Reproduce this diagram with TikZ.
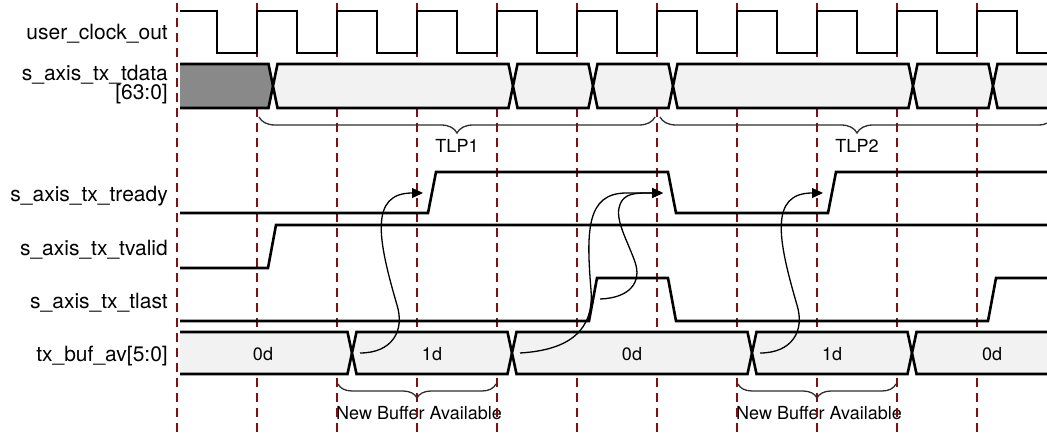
\documentclass[tikz,border=0pt]{standalone}
\usepackage{fontspec}
\setmainfont{TeX Gyre Heros}
\usetikzlibrary{arrows.meta,decorations.pathreplacing}
\definecolor{gridred}{RGB}{128,16,16}
\definecolor{boxfill}{RGB}{242,242,242}
\definecolor{darkfill}{RGB}{137,137,137}
\definecolor{bracecol}{RGB}{45,45,45}
\newcommand\busseg[5]{\filldraw[wave, fill=#5] (#1+4.5,#3) -- (#2-4.5,#3) -- (#2,{(#3+#4)/2}) -- (#2-4.5,#4) -- (#1+4.5,#4) -- (#1,{(#3+#4)/2}) -- cycle;}
\begin{document}
\begin{tikzpicture}[x=1pt,y=-1pt,
  wave/.style={line width=2.6pt, line join=miter, black},
  grid/.style={gridred, line width=1.3pt, dash pattern=on 9pt off 6pt},
  sig/.style={anchor=base east, font=\fontsize{21}{25}\selectfont, inner sep=0pt},
  val/.style={anchor=base, font=\fontsize{18}{22}\selectfont, inner sep=0pt},
  flow/.style={line width=1.3pt, -{Triangle[length=11pt,width=10pt]}},
  brc/.style={bracecol, line width=1.3pt, decorate, decoration={brace, mirror, amplitude=#1}}]
\useasboundingbox (0,0) rectangle (1047,433);
\clip (0,0) rectangle (1047,433);
% labels under braces (the grid runs over them)
\node[val] (tlp1) at (457,153) {TLP1};
\node[val] (tlp2) at (857,153) {TLP2};
\node[val] (nb1) at (419,419) {New Buffer Available};
\node[val] (nb2) at (819,419) {New Buffer Available};
% grid
\foreach \i in {0,...,10} \draw[grid] ({177+80*\i},3) -- ({177+80*\i},433);
% clock
\draw[wave] (180,11) \foreach \k in {0,...,9} { -- ({217+80*\k},11) -- ({217+80*\k},53) -- ({257+80*\k},53) -- ({257+80*\k},11) } -- (1017,11) -- (1017,53) -- (1050,53);
% tdata
\fill[darkfill] (180,64) -- (268.5,64) -- (273,86) -- (268.5,108) -- (180,108) -- cycle;
\draw[wave] (180,64) -- (268.5,64) -- (273,86) -- (268.5,108) -- (180,108);
\busseg{273}{513}{64}{108}{boxfill}
\busseg{513}{593}{64}{108}{boxfill}
\busseg{593}{673}{64}{108}{boxfill}
\busseg{673}{913}{64}{108}{boxfill}
\busseg{913}{993}{64}{108}{boxfill}
\busseg{993}{1080}{64}{108}{boxfill}
% tready
\draw[wave] (180,213) -- (428,213) -- (436,172) -- (668,172) -- (676,213) -- (828,213) -- (836,172) -- (1050,172);
% tvalid
\draw[wave] (180,268) -- (268,268) -- (276,225) -- (1050,225);
% tlast
\draw[wave] (180,321) -- (589,321) -- (597,278) -- (668,278) -- (676,321) -- (988,321) -- (996,278) -- (1050,278);
% tx_buf_av
\fill[boxfill] (180,332) -- (347.5,332) -- (352,353) -- (347.5,374) -- (180,374) -- cycle;
\draw[wave] (180,332) -- (347.5,332) -- (352,353) -- (347.5,374) -- (180,374);
\busseg{352}{512}{332}{374}{boxfill}
\busseg{512}{752}{332}{374}{boxfill}
\busseg{752}{912}{332}{374}{boxfill}
\busseg{912}{1080}{332}{374}{boxfill}
% labels
\node[sig] (lclk) at (168,40) {user\_clock\_out};
\node[sig] (ldata) at (168,81) {s\_axis\_tx\_tdata};
\node[sig] (ldatab) at (168,100) {[63:0]};
\node[sig] (lrdy) at (168,201) {s\_axis\_tx\_tready};
\node[sig] (lvld) at (168,255) {s\_axis\_tx\_tvalid};
\node[sig] (llast) at (168,308) {s\_axis\_tx\_tlast};
\node[sig] (lbuf) at (168,361) {tx\_buf\_av[5:0]};
\node[val] (v1) at (263,360) {0d};
\node[val] (v2) at (432,360) {1d};
\node[val] (v3) at (632,360) {0d};
\node[val] (v4) at (832,360) {1d};
\node[val] (v5) at (992,360) {0d};
% braces
\draw[brc=16pt] (259,117) -- (655,117);
\draw[brc=16pt] (660,117) -- (1054,117);
\draw[brc=14pt] (338,384) -- (496,384);
\draw[brc=14pt] (738,384) -- (896,384);
% arrows
\coordinate (a1s) at (360,353); \coordinate (a1m) at (397,305); \coordinate (a1e) at (423,193);
\coordinate (a4s) at (760,353); \coordinate (a4m) at (797,305); \coordinate (a4e) at (823,193);
\coordinate (a2s) at (520,353); \coordinate (a2m) at (591,290); \coordinate (a2n) at (625,193);
\coordinate (a3s) at (600,299); \coordinate (a3m) at (635,262); \coordinate (a3n) at (619,208); \coordinate (a3o) at (645,193);
\coordinate (tipB) at (663,193);
\draw[flow] (a1s) .. controls +(32,0) and +(8,26) .. (a1m) .. controls +(-19,-65) and +(-54,0) .. (a1e);
\draw[flow] (a4s) .. controls +(32,0) and +(8,26) .. (a4m) .. controls +(-19,-65) and +(-54,0) .. (a4e);
\draw[flow] (a2s) .. controls +(50,-3) and +(3,40) .. (a2m) .. controls +(-5,-60) and +(-38,1) .. (a2n) -- (tipB);
\draw[flow] (a3s) .. controls +(30,-1) and +(7,20) .. (a3m) .. controls +(-7,-20) and +(-3,14) .. (a3n) .. controls +(2.5,-12) and +(-15,0) .. (a3o) -- (tipB);
\end{tikzpicture}
\end{document}
